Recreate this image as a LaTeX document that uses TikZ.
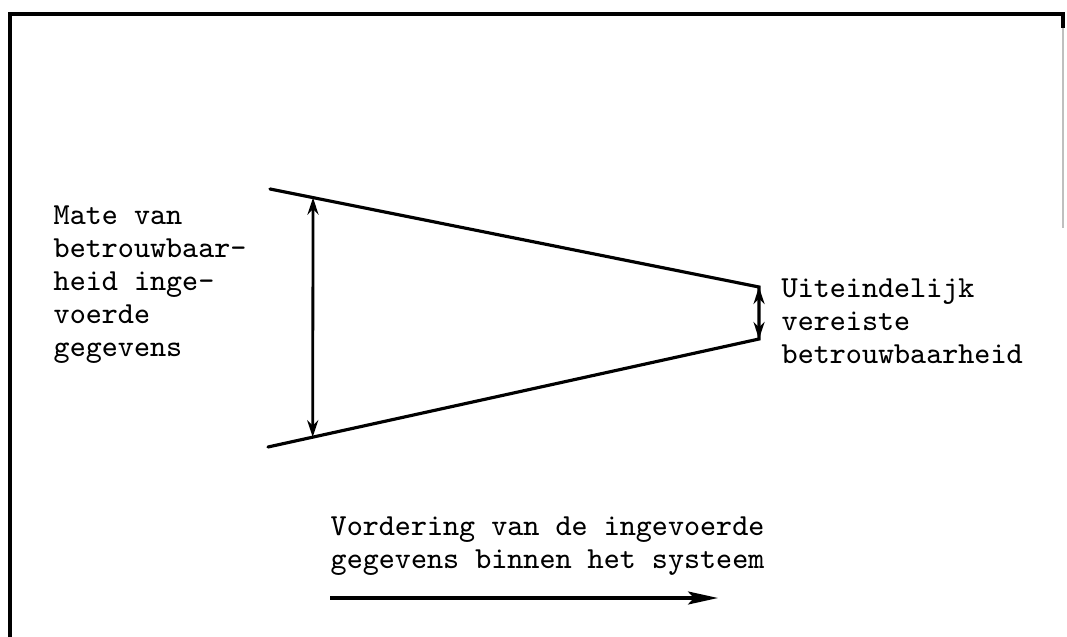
\documentclass[tikz,border=0pt]{standalone}
\usepackage{tikz}
\usetikzlibrary{arrows.meta, positioning, calc}
\tikzset{
  frame/.style={line width=0.9pt},
  funnel/.style={line width=0.9pt,line cap=round},
  span/.style={{Stealth[length=1.7mm,width=1.1mm]}-{Stealth[length=1.7mm,width=1.1mm]},line width=0.8pt},
  flow/.style={-{Stealth[length=3mm,width=1.3mm,inset=0.6mm]},line width=0.9pt},
  lbl/.style={font=\ttfamily\fontsize{8.7}{9.4}\selectfont,align=left,inner sep=0pt,anchor=north west},
}
\begin{document}
\begin{tikzpicture}[x=0.01cm,y=-0.01cm]
    \useasboundingbox (0,0) rectangle (1067,637);
    % frame (open at the bottom)
    \draw[frame] (10,637) -- (10,14) -- (1063,14) -- (1063,28);
    \draw[gray!50,line width=0.4pt] (1063,28) -- (1063,228);
    % funnel
    \coordinate (tl) at (270,189);
    \coordinate (tr) at (759,287);
    \coordinate (bl) at (268,447);
    \coordinate (br) at (759,339);
    \draw[funnel] (tl) -- (tr) -- (br) -- (bl);
    \coordinate (at) at ($(tl)!0.088!(tr)$);
    \coordinate (ab) at ($(bl)!0.091!(br)$);
    \draw[span] (at) -- (ab);
    \draw[span] (tr) -- (br);
    % labels
    \node[lbl] (inp) at (53,205) {Mate van\\betrouwbaar-\\heid inge-\\voerde\\gegevens};
    \node[lbl] (req) at (781,278) {Uiteindelijk\\vereiste\\betrouwbaarheid};
    \node[lbl] (prog) at (330,516) {Vordering van de ingevoerde\\gegevens binnen het systeem};
    \coordinate (fs) at (330,598);
    \coordinate (fe) at (718,598);
    \draw[flow] (fs) -- (fe);
\end{tikzpicture}
\end{document}
